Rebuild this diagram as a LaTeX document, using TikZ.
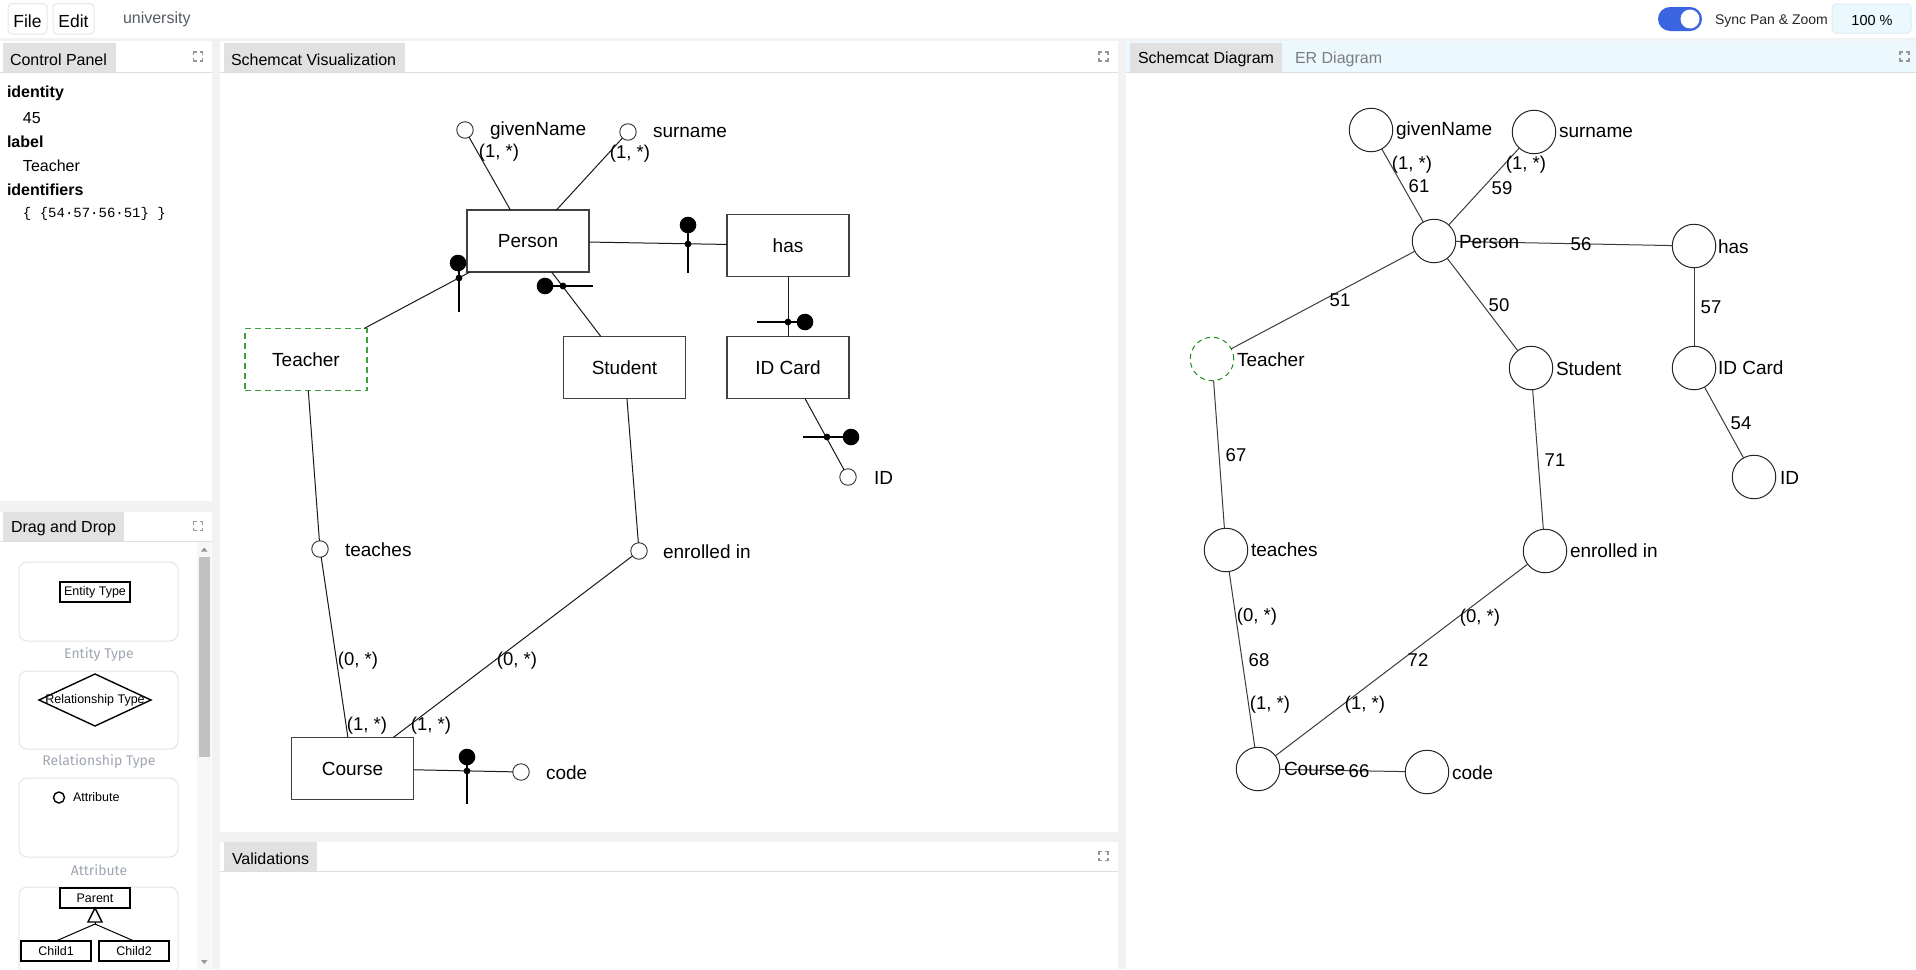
\documentclass[tikz,border=0pt]{standalone}
\usepackage{fontspec}
\setmainfont{Liberation Sans}
\setmonofont{Liberation Mono}
\newfontfamily\capfont{Fira Sans}
\usetikzlibrary{shapes.geometric}
\definecolor{stripgray}{RGB}{242,242,242}
\definecolor{tabgray}{RGB}{225,225,225}
\definecolor{tabline}{RGB}{222,222,222}
\definecolor{hdrblue}{RGB}{235,248,254}
\definecolor{togblue}{RGB}{59,100,226}
\definecolor{capgray}{RGB}{160,166,178}
\definecolor{unigray}{RGB}{85,90,100}
\definecolor{ergray}{RGB}{125,125,125}
\definecolor{midgreen}{RGB}{60,160,60}
\definecolor{rgreen}{RGB}{30,140,30}
\definecolor{cardline}{RGB}{228,228,228}
\definecolor{icongray}{RGB}{150,150,150}
\definecolor{thumbgray}{RGB}{193,193,193}
\definecolor{trackgray}{RGB}{246,246,246}
\definecolor{edgegray}{RGB}{60,60,60}
\definecolor{btnline}{RGB}{230,230,230}
\definecolor{zoomline}{RGB}{220,235,242}
\newcommand\fsz[1]{\fontsize{#1}{#1}\selectfont}
\begin{document}
\begin{tikzpicture}[x=1pt,y=-1pt,
  every node/.style={inner sep=0pt,outer sep=0pt},
  tx/.style={yshift=-1.8pt},
  entbox/.style={draw=black!75,line width=1.1pt,minimum width=122pt,minimum height=62pt,font=\fsz{19}},
  tchbox/.style={entbox,draw=midgreen,dash pattern=on 6pt off 4pt},
  attrc/.style={circle,draw=black!80,line width=0.9pt,minimum size=16.5pt},
  lbl/.style={tx,anchor=west,font=\fsz{19}},
  card/.style={tx,font=\fsz{18.5}},
  link/.style={draw=black!90,line width=1pt},
  stemline/.style={draw=black,line width=2pt},
  rnd/.style={circle,draw=black!85,line width=1pt,minimum size=43.5pt},
  rdash/.style={rnd,draw=rgreen,dash pattern=on 5pt off 4pt},
  rlink/.style={draw=edgegray,line width=1pt},
  tabtxt/.style={tx,anchor=west,font=\fsz{16}},
  captxt/.style={tx,font=\capfont\fsz{14},text=capgray},
  smalltxt/.style={font=\fsz{12.5}},
  cardbox/.style={draw=cardline,line width=1pt,rounded corners=8pt},
  palbox/.style={draw=black,line width=1.4pt,minimum width=70pt,minimum height=20pt,font=\fsz{12.5}},
  cptxt/.style={tx,anchor=west,font=\fsz{16}},
  expandicon/.pic={
    \draw[icongray,line width=1.4pt] (-4.5,-1.5) -- (-4.5,-4.5) -- (-1.5,-4.5)
      (1.5,-4.5) -- (4.5,-4.5) -- (4.5,-1.5)
      (4.5,1.5) -- (4.5,4.5) -- (1.5,4.5)
      (-1.5,4.5) -- (-4.5,4.5) -- (-4.5,1.5);
  }]
\useasboundingbox (0,0) rectangle (1916,969);
\fill[white] (0,0) rectangle (1916,969);

% ---------- frame ----------
\fill[stripgray] (0,38) rectangle (1916,41);
\fill[stripgray] (212,40) rectangle (220,969);
\fill[stripgray] (0,501) rectangle (212,512);
\fill[stripgray] (1118,40) rectangle (1126,969);
\fill[stripgray] (220,832) rectangle (1118,842);
\fill[hdrblue] (1126,41) rectangle (1916,72);
\draw[tabline,line width=1pt] (0,72.5) -- (212,72.5);
\draw[tabline,line width=1pt] (220,72.5) -- (1118,72.5);
\draw[tabline,line width=1pt] (1126,72.5) -- (1916,72.5);
\draw[tabline,line width=1pt] (0,541.5) -- (212,541.5);
\draw[tabline,line width=1pt] (220,871.5) -- (1118,871.5);

% ---------- top bar ----------
\draw[btnline,line width=1pt,rounded corners=4pt] (8,3.5) rectangle (47,34);
\node[tx,font=\fsz{17.5}] (filebtn) at (27.5,19) {File};
\draw[btnline,line width=1pt,rounded corners=4pt] (53,3.5) rectangle (94,34);
\node[tx,font=\fsz{17.5}] (editbtn) at (73.5,19) {Edit};
\node[tx,anchor=west,font=\fsz{16},text=unigray] (uni) at (123,18) {university};
\fill[togblue,rounded corners=12pt] (1658,7) rectangle (1702,31);
\fill[white] (1690,19) circle (9.5);
\node[tx,anchor=west,font=\fsz{14},text=black!85] (sync) at (1715,19) {Sync Pan \& Zoom};
\draw[zoomline,fill=hdrblue,line width=1pt,rounded corners=4pt] (1832,4) rectangle (1911,33);
\node[tx,font=\fsz{14.5}] (zoomval) at (1872,19) {100 \%};

% ---------- tabs ----------
\fill[tabgray] (3,43) rectangle (116,72);
\node[tabtxt] (tcp) at (10,57.5) {Control Panel};
\fill[tabgray] (224,43) rectangle (405,72);
\node[tabtxt] (tsv) at (231,57.5) {Schemcat Visualization};
\fill[tabgray] (1130,43) rectangle (1282,72);
\node[tabtxt] (tsd) at (1138,57.5) {Schemcat Diagram};
\node[tabtxt,text=ergray] (ter) at (1295,57.5) {ER Diagram};
\fill[tabgray] (3,512) rectangle (124,541);
\node[tabtxt] (tdd) at (11,526.5) {Drag and Drop};
\fill[tabgray] (224,842) rectangle (317,871);
\node[tabtxt] (tva) at (232,856.5) {Validations};
\pic at (198,56.5) {expandicon};
\pic at (1103.5,56.5) {expandicon};
\pic at (1904.5,56.5) {expandicon};
\pic at (198,526) {expandicon};
\pic at (1103.5,856) {expandicon};

% ---------- control panel ----------
\node[cptxt,font=\bfseries\fsz{16}] (cp1) at (7,92) {identity};
\node[cptxt] (cp2) at (23,116) {45};
\node[cptxt,font=\bfseries\fsz{16}] (cp3) at (7,140) {label};
\node[cptxt] (cp4) at (23,164) {Teacher};
\node[cptxt,font=\bfseries\fsz{16}] (cp5) at (7,188) {identifiers};
\node[cptxt,font=\ttfamily\fsz{14}] (cp6) at (23,212) {\{ \{54·57·56·51\} \}};

% ---------- drag and drop ----------
\fill[trackgray] (197,542) rectangle (211,969);
\fill[thumbgray] (199,557) rectangle (210,757);
\fill[icongray] (201,551.5) -- (207.5,551.5) -- (204.25,547.5) -- cycle;
\fill[icongray] (201,960) -- (207.5,960) -- (204.25,964) -- cycle;
\draw[cardbox] (19,562) rectangle (178,641);
\node[palbox] (pent) at (95,592) {Entity Type};
\node[captxt] (cent) at (99,653) {Entity Type};
\draw[cardbox] (19,671) rectangle (178,749);
\draw[black,line width=1.4pt] (39,700) -- (95,674) -- (151,700) -- (95,726) -- cycle;
\node[smalltxt] (prel) at (95,700) {Relationship Type};
\node[captxt] (crel) at (99,760) {Relationship Type};
\draw[cardbox] (19,778) rectangle (178,857);
\draw[black,line width=1.4pt] (59,797.5) circle (5.5);
\node[smalltxt,anchor=west] (patt) at (73,797) {Attribute};
\node[captxt] (catt) at (99,868) {Attribute};
\draw[cardbox] (19,887) rectangle (178,974);
\node[palbox,fill=white] (ppar) at (95,898) {Parent};
\node[palbox] (pch1) at (56,951) {Child1};
\node[palbox] (pch2) at (134,951) {Child2};
\coordinate (pjoin) at (95,924);
\draw[black,line width=1.4pt] (95,908) -- (88,922) -- (102,922) -- cycle;
\draw[black,line width=1pt] (95,922) -- (pjoin);
\draw[black,line width=1pt] (pjoin) -- (pch1.north);
\draw[black,line width=1pt] (pjoin) -- (pch2.north);

% ---------- Schemcat Visualization ----------
\node[entbox] (person) at (528,241) {Person};
\node[entbox] (has) at (788,245.5) {has};
\node[entbox] (student) at (624.5,367.5) {Student};
\node[entbox] (idcard) at (788,367.5) {ID Card};
\node[tchbox] (teacher) at (306,359.5) {Teacher};
\node[entbox] (course) at (352.5,768.5) {Course};
\node[attrc] (given) at (465,130) {};
\node[attrc] (surname) at (628,132) {};
\node[attrc] (idattr) at (848,477) {};
\node[attrc] (teaches) at (320,549) {};
\node[attrc] (enrolled) at (639,551) {};
\node[attrc] (code) at (521,772) {};

\draw[link] (given) -- (person);
\draw[link] (surname) -- (person);
\draw[link] (person) -- (has);
\draw[link] (person) -- (teacher);
\draw[link] (person) -- (student);
\draw[link] (has) -- (idcard);
\draw[link] (idcard) -- (idattr);
\draw[link] (teacher) -- (teaches);
\draw[link] (teaches) -- (course);
\draw[link] (student) -- (enrolled);
\draw[link] (enrolled) -- (course);
\draw[link] (course) -- (code);

\node[lbl] (givenL) at (490,129) {givenName};
\node[lbl] (surnameL) at (653,131) {surname};
\node[lbl] (idL) at (874,476) {ID};
\node[lbl] (teachesL) at (345,548) {teaches};
\node[lbl] (enrolledL) at (663,550) {enrolled in};
\node[lbl] (codeL) at (546,771) {code};
\node[card] (c1) at (499,151) {(1, *)};
\node[card] (c2) at (630,152) {(1, *)};
\node[card] (c3) at (358,659) {(0, *)};
\node[card] (c4) at (367,724) {(1, *)};
\node[card] (c5) at (517,659) {(0, *)};
\node[card] (c6) at (431,724) {(1, *)};

% identifier markers
\coordinate (k1) at (459,278);
\draw[stemline] (k1) ++(0,-12) -- ++(0,46);
\fill (k1) circle (3.4); \fill (k1) ++(-1,-15) circle (8.3);
\coordinate (k2) at (563,286);
\draw[stemline] (k2) ++(-12,0) -- ++(42,0);
\fill (k2) circle (3.4); \fill (k2) ++(-18,0) circle (8.3);
\coordinate (k3) at (688,244);
\draw[stemline] (k3) ++(0,-12) -- ++(0,41);
\fill (k3) circle (3.4); \fill (k3) ++(0,-19) circle (8.3);
\coordinate (k4) at (788,322);
\draw[stemline] (k4) ++(-31,0) -- ++(43,0);
\fill (k4) circle (3.4); \fill (k4) ++(17,0) circle (8.3);
\coordinate (k5) at (827,437);
\draw[stemline] (k5) ++(-24,0) -- ++(42,0);
\fill (k5) circle (3.4); \fill (k5) ++(24,0) circle (8.3);
\coordinate (k6) at (467,771);
\draw[stemline] (k6) ++(0,-10) -- ++(0,43);
\fill (k6) circle (3.4); \fill (k6) ++(0,-14) circle (8.3);

% ---------- Schemcat Diagram ----------
\node[rnd] (rgiven) at (1371,130) {};
\node[rnd] (rsur) at (1534,132) {};
\node[rnd] (rperson) at (1434,241) {};
\node[rnd] (rhas) at (1694,246) {};
\node[rdash] (rteacher) at (1212,359) {};
\node[rnd] (rstudent) at (1531,368) {};
\node[rnd] (ridcard) at (1694,368) {};
\node[rnd] (rid) at (1754,477) {};
\node[rnd] (rteaches) at (1226,550) {};
\node[rnd] (renrolled) at (1545,551) {};
\node[rnd] (rcourse) at (1258,769) {};
\node[rnd] (rcode) at (1427,772) {};

\draw[rlink] (rgiven) -- (rperson);
\draw[rlink] (rsur) -- (rperson);
\draw[rlink] (rperson) -- (rhas);
\draw[rlink] (rperson) -- (rteacher);
\draw[rlink] (rperson) -- (rstudent);
\draw[rlink] (rhas) -- (ridcard);
\draw[rlink] (ridcard) -- (rid);
\draw[rlink] (rteacher) -- (rteaches);
\draw[rlink] (rstudent) -- (renrolled);
\draw[rlink] (rteaches) -- (rcourse);
\draw[rlink] (renrolled) -- (rcourse);
\draw[rlink] (rcourse) -- (rcode);

\node[lbl] (rgivenL) at (1396,129) {givenName};
\node[lbl] (rsurL) at (1559,131) {surname};
\node[lbl] (rpersonL) at (1459,240) {Person};
\node[lbl] (rhasL) at (1718,245) {has};
\node[lbl] (rteacherL) at (1237,358) {Teacher};
\node[lbl] (rstudentL) at (1556,367) {Student};
\node[lbl] (ridcardL) at (1718,366) {ID Card};
\node[lbl] (ridL) at (1780,476) {ID};
\node[lbl] (rteachesL) at (1251,548) {teaches};
\node[lbl] (renrolledL) at (1570,549) {enrolled in};
\node[lbl] (rcourseL) at (1284,767) {Course};
\node[lbl] (rcodeL) at (1452,771) {code};

\node[card] (e61) at (1419,184) {61};
\node[card] (e61c) at (1412,163) {(1, *)};
\node[card] (e59) at (1502,186) {59};
\node[card] (e59c) at (1526,163) {(1, *)};
\node[card] (e56) at (1581,242) {56};
\node[card] (e51) at (1340,298) {51};
\node[card] (e50) at (1499,303) {50};
\node[card] (e57) at (1711,305) {57};
\node[card] (e54) at (1741,421) {54};
\node[card] (e67) at (1236,453) {67};
\node[card] (e71) at (1555,458) {71};
\node[card] (e68c1) at (1257,615) {(0, *)};
\node[card] (e68) at (1259,658) {68};
\node[card] (e68c2) at (1270,703) {(1, *)};
\node[card] (e72c1) at (1480,616) {(0, *)};
\node[card] (e72) at (1418,658) {72};
\node[card] (e72c2) at (1365,703) {(1, *)};
\node[card] (e66) at (1359,769) {66};
\end{tikzpicture}
\end{document}
